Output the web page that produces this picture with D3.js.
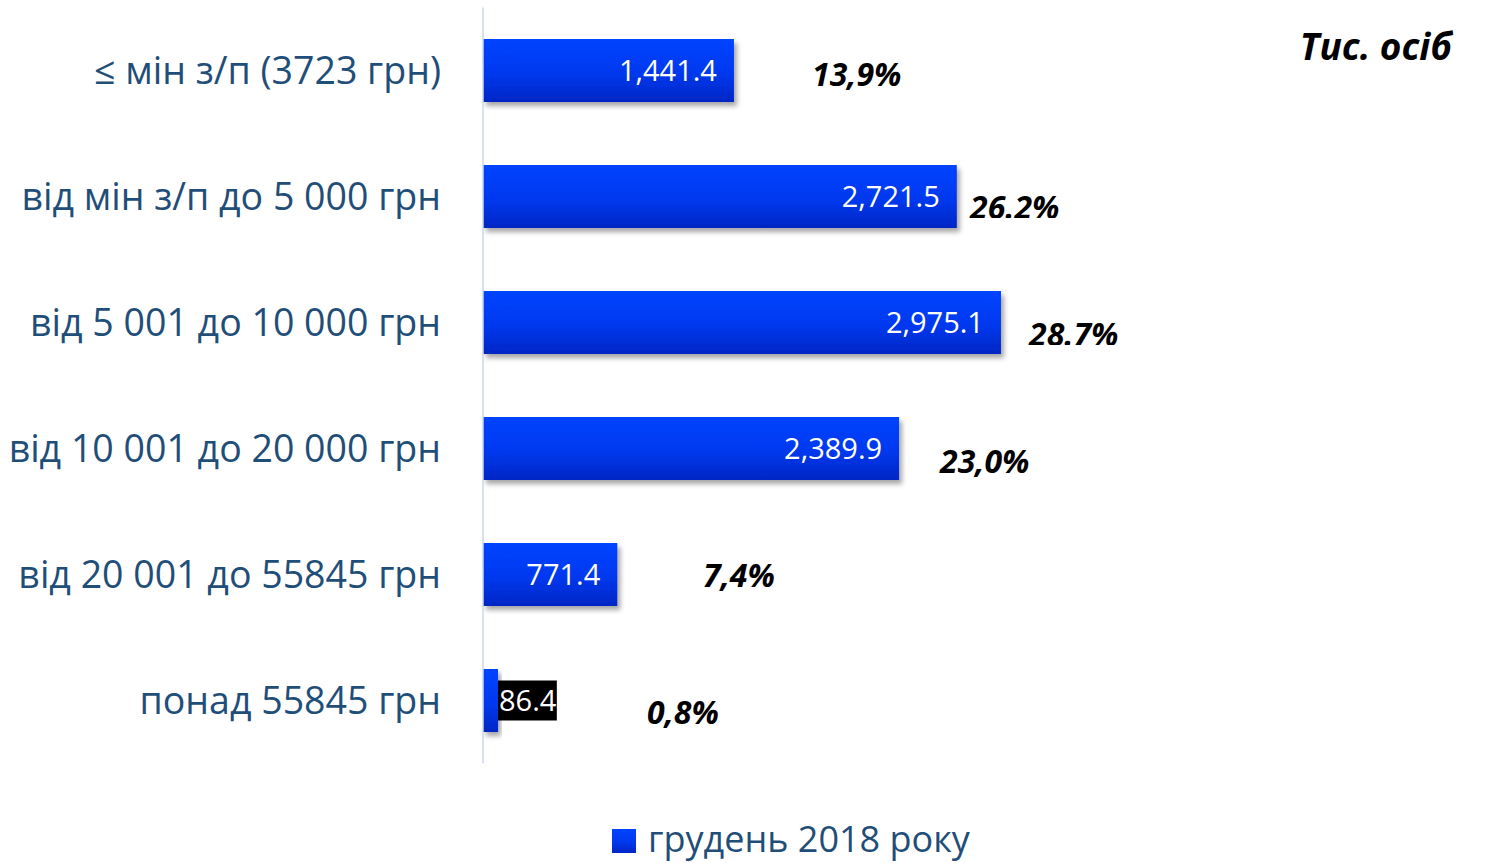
<!DOCTYPE html>
<html>
<head>
<meta charset="utf-8">
<script src="https://cdn.jsdelivr.net/npm/d3@7"></script>
<style>
  body { margin: 0; background: #fff; }
  svg { display: block; font-family: "Open Sans", "Noto Sans", sans-serif; }
</style>
</head>
<body>
<svg id="chart" width="1511" height="863"></svg>
<script>
// data
var categories = [
  "≤ мін з/п (3723 грн)",
  "від мін з/п до 5 000 грн",
  "від 5 001 до 10 000 грн",
  "від 10 001 до 20 000 грн",
  "від 20 001 до 55845 грн",
  "понад 55845 грн"
];
var values = [1441.4, 2721.5, 2975.1, 2389.9, 771.4, 86.4];
var valueLabels = ["1,441.4", "2,721.5", "2,975.1", "2,389.9", "771.4", "86.4"];
var shares = ["13,9%", "26.2%", "28.7%", "23,0%", "7,4%", "0,8%"];
var seriesName = "грудень 2018 року";
var unitLabel = "Тис. осіб";

// hand placed share labels (left x, baseline y, clipped bottom?)
var sharePos = [[812, 86, false], [970, 219, true], [1029, 346, true],
                [940, 473, false], [703, 587, false], [647, 724, false]];

var axisX = 483;
var svg = d3.select("#chart");

var y = d3.scaleBand().domain(categories).range([7.5, 763.5])
  .paddingInner(0.5).paddingOuter(0.25);
var x = d3.scaleLinear().domain([0, 3000]).range([0, 522.3]);

var defs = svg.append("defs");
var grad = defs.append("linearGradient").attr("id", "barGrad")
  .attr("x1", 0).attr("y1", 0).attr("x2", 0).attr("y2", 1);
grad.append("stop").attr("offset", "0%").attr("stop-color", "#0044ff");
grad.append("stop").attr("offset", "55%").attr("stop-color", "#0038ee");
grad.append("stop").attr("offset", "100%").attr("stop-color", "#0026c4");

var shadow = defs.append("filter").attr("id", "shadow")
  .attr("x", "-10%").attr("y", "-20%").attr("width", "130%").attr("height", "160%");
shadow.append("feDropShadow").attr("dx", 3).attr("dy", 4)
  .attr("stdDeviation", 2.5).attr("flood-color", "#000").attr("flood-opacity", 0.35);

// bars
var g = svg.append("g").attr("transform", "translate(" + axisX + ",0)");

g.selectAll("rect.bar")
  .data(values)
  .join("rect")
  .attr("class", "bar")
  .attr("x", 0)
  .attr("y", (d, i) => y(categories[i]))
  .attr("width", d => x(d))
  .attr("height", y.bandwidth())
  .attr("fill", "url(#barGrad)")
  .attr("filter", "url(#shadow)");

// axis line
svg.append("line")
  .attr("x1", axisX).attr("x2", axisX)
  .attr("y1", y.range()[0]).attr("y2", y.range()[1])
  .attr("stroke", "#c9d9ee").attr("stroke-width", 1.5);

// category labels
svg.selectAll("text.cat")
  .data(categories)
  .join("text")
  .attr("class", "cat")
  .attr("x", 441)
  .attr("y", d => y(d) + y.bandwidth() / 2)
  .attr("dy", "0.36em")
  .attr("text-anchor", "end")
  .attr("fill", "#1f4e79")
  .style("font-size", "37.5px")
  .text(d => d);

// value labels
values.forEach(function(v, i) {
  var cy = y(categories[i]) + y.bandwidth() / 2;
  var w = x(v);
  if (w > 60) {
    g.append("text")
      .attr("x", w - 17)
      .attr("y", cy)
      .attr("dy", "0.36em")
      .attr("text-anchor", "end")
      .attr("fill", "#fff")
      .style("font-size", "29px")
      .text(valueLabels[i]);
  } else {
    var t = g.append("text")
      .attr("x", w + 1)
      .attr("y", cy)
      .attr("dy", "0.36em")
      .attr("fill", "#fff")
      .style("font-size", "29px")
      .text(valueLabels[i]);
    var bb = t.node().getBBox();
    g.insert("rect", "text")
      .attr("x", w)
      .attr("y", cy - 20)
      .attr("width", bb.width + 1)
      .attr("height", 40)
      .attr("fill", "#000");
  }
});

// share labels
shares.forEach(function(s, i) {
  var p = sharePos[i];
  var t = svg.append("text")
    .attr("x", p[0])
    .attr("y", p[1])
    .attr("fill", "#000")
    .style("font-size", "32px")
    .style("font-weight", "bold")
    .style("font-style", "italic")
    .text(s);
  if (p[2]) {
    var id = "clip" + i;
    defs.append("clipPath").attr("id", id)
      .append("rect").attr("x", p[0] - 10).attr("y", p[1] - 40)
      .attr("width", 160).attr("height", 39);
    t.attr("clip-path", "url(#" + id + ")");
  }
});

// unit label
svg.append("text")
  .attr("x", 1452)
  .attr("y", 60)
  .attr("text-anchor", "end")
  .attr("fill", "#000")
  .style("font-size", "37px")
  .style("font-weight", "bold")
  .style("font-style", "italic")
  .text(unitLabel);

// legend
var lg = svg.append("g").attr("transform", "translate(612,829)");
lg.append("rect").attr("width", 24).attr("height", 24).attr("fill", "url(#barGrad)");
lg.append("text")
  .attr("x", 36)
  .attr("y", 10)
  .attr("dy", "0.36em")
  .attr("fill", "#1f4e79")
  .style("font-size", "36px")
  .text(seriesName);
</script>
</body>
</html>
